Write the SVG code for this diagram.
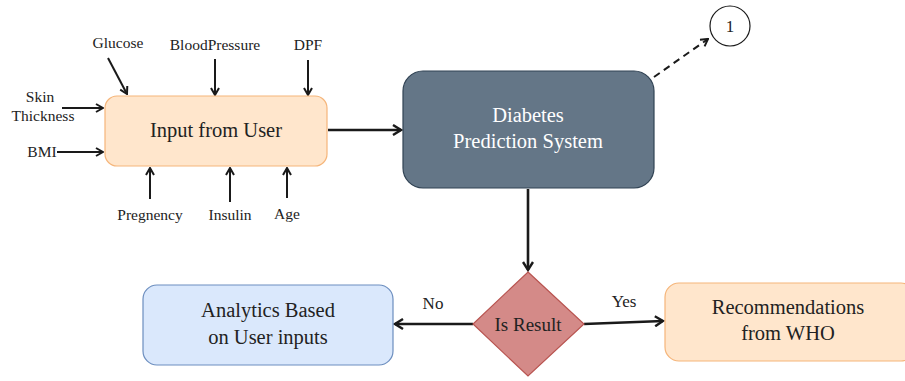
<svg xmlns="http://www.w3.org/2000/svg" width="905" height="381" viewBox="0 0 905 381">
<defs>
<marker id="ah" viewBox="0 0 10 10" refX="9" refY="5" markerWidth="10" markerHeight="10" markerUnits="userSpaceOnUse" orient="auto">
<path d="M2,1 L9,5 L2,9" fill="none" stroke="#1a1a1a" stroke-width="2"/>
</marker>
<marker id="ahb" viewBox="0 0 12 12" refX="10" refY="6" markerWidth="12" markerHeight="12" markerUnits="userSpaceOnUse" orient="auto">
<path d="M2,1 L10,6 L2,11" fill="none" stroke="#1a1a1a" stroke-width="2.4"/>
</marker>
</defs>
<style>
text{font-family:"Liberation Serif","DejaVu Serif",serif;fill:#222;text-anchor:middle}
.s{font-size:15.5px}
.m{font-size:20.5px}
.w{fill:#fff}
.c{stroke:#1a1a1a;stroke-width:2;fill:none;marker-end:url(#ah)}
.cb{stroke:#1a1a1a;stroke-width:2.6;fill:none;marker-end:url(#ahb)}
</style>
<g id="connectors">
<path class="c" d="M108,58 L127,94"/>
<path class="c" d="M215,59 L215,95"/>
<path class="c" d="M308,60 L308,95"/>
<path class="c" d="M62,108 L103,108"/>
<path class="c" d="M57,152 L103,152"/>
<path class="c" d="M150,199 L150,168"/>
<path class="c" d="M230,202 L230,168"/>
<path class="c" d="M287,198 L287,168"/>
<path class="cb" d="M328,130 L401,130"/>
<path class="c" d="M654,77 L708,39" stroke-dasharray="7,5"/>
<path class="cb" d="M528,189 L528,270"/>
<path class="cb" d="M473,324 L395,324"/>
<path class="cb" d="M584,324 L663,321"/>
<text class="s" x="433" y="309" style="font-size:17px">No</text>
<text class="s" x="624" y="307" style="font-size:17px">Yes</text>
</g>
<g id="labels">
<text class="s" x="118" y="48">Glucose</text>
<text class="s" x="215" y="50">BloodPressure</text>
<text class="s" x="308" y="50">DPF</text>
<text class="s" x="40" y="102">Skin</text>
<text class="s" x="43" y="121">Thickness</text>
<text class="s" x="42" y="157">BMI</text>
<text class="s" x="150" y="220">Pregnency</text>
<text class="s" x="230" y="220">Insulin</text>
<text class="s" x="287" y="219">Age</text>
</g>
<g id="input">
<rect x="105" y="96" width="222" height="70" rx="12" fill="#FFE6CC" stroke="#F5B57A" stroke-width="1.2"/>
<text class="m" x="216" y="137">Input from User</text>
</g>
<g id="dps">
<rect x="403" y="71" width="251" height="117" rx="20" fill="#647687" stroke="#314354" stroke-width="1.2"/>
<text class="m w" x="528" y="122">Diabetes</text>
<text class="m w" x="528" y="148">Prediction System</text>
</g>
<g id="circle1">
<circle cx="730" cy="26" r="20" fill="#fff" stroke="#1a1a1a" stroke-width="1.2"/>
<text class="s" x="730" y="32" style="font-size:17px">1</text>
</g>
<g id="decision">
<path d="M528,272 L584,324 L528,376 L473,324 Z" fill="#D48A88" stroke="#B85450" stroke-width="1.2"/>
<text class="m" x="528" y="331" style="font-size:19px">Is Result</text>
</g>
<g id="analytics">
<rect x="143" y="285" width="250" height="80" rx="14" fill="#DAE8FC" stroke="#6C8EBF" stroke-width="1.2"/>
<text class="m" x="268" y="317">Analytics Based</text>
<text class="m" x="268" y="344">on User inputs</text>
</g>
<g id="recommend">
<rect x="665" y="283" width="250" height="78" rx="14" fill="#FFE6CC" stroke="#F5B57A" stroke-width="1.2"/>
<text class="m" x="788" y="314">Recommendations</text>
<text class="m" x="788" y="340">from WHO</text>
</g>
</svg>
